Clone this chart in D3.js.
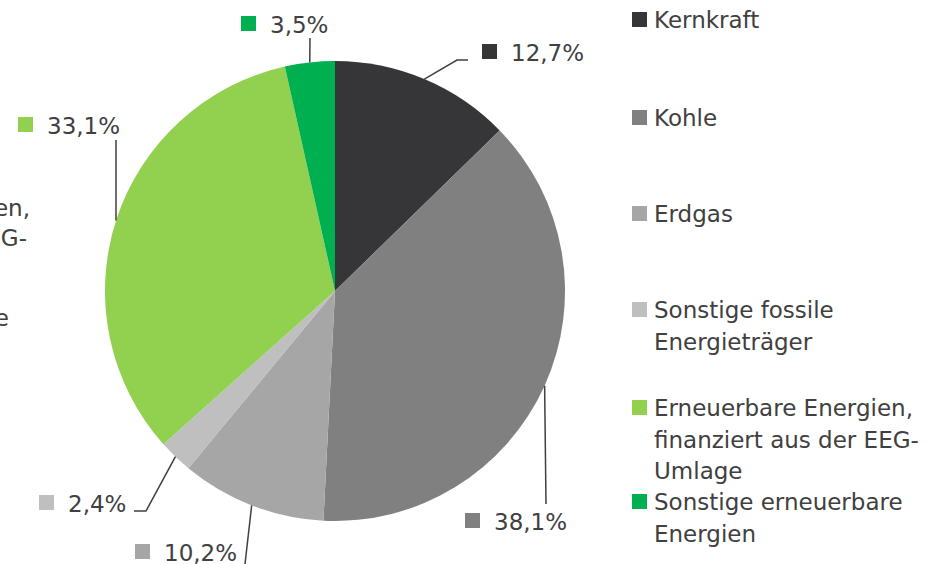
<!DOCTYPE html>
<html>
<head>
<meta charset="utf-8">
<script src="https://cdn.jsdelivr.net/npm/d3@7"></script>
<style>
  body { margin: 0; background: #fff; }
  svg { display: block; }
  text { font-family: "DejaVu Sans", Verdana, sans-serif; font-size: 23px; fill: #404040; }
</style>
</head>
<body>
<div id="chart-area"></div>
<script>
// data
var categories = ["Kernkraft", "Kohle", "Erdgas", "Sonstige fossile Energieträger",
  "Erneuerbare Energien, finanziert aus der EEG-Umlage", "Sonstige erneuerbare Energien"];
var legendLines = [["Kernkraft"], ["Kohle"], ["Erdgas"], ["Sonstige fossile", "Energieträger"],
  ["Erneuerbare Energien,", "finanziert aus der EEG-", "Umlage"], ["Sonstige erneuerbare", "Energien"]];
var shares = [12.7, 38.1, 10.2, 2.4, 33.1, 3.5];
var shareLabels = ["12,7%", "38,1%", "10,2%", "2,4%", "33,1%", "3,5%"];
var colors = ["#363638", "#808080", "#a6a6a6", "#bfbfbf", "#92d050", "#00b050"];

var width = 940, height = 564;
var cx = 335, cy = 291, radius = 230;

var svg = d3.select("#chart-area")
  .append("svg")
    .attr("width", width)
    .attr("height", height);

var color = d3.scaleOrdinal().domain(categories).range(colors);

var pie = d3.pie().sort(null).value(function(d) { return d.value; });
var arc = d3.arc().innerRadius(0).outerRadius(radius);

var data = categories.map(function(c, i) {
  return { name: c, value: shares[i], label: shareLabels[i] };
});
var arcs = pie(data);

var g = svg.append("g")
  .attr("transform", "translate(" + cx + ", " + cy + ")");

g.selectAll("path.slice")
  .data(arcs)
  .enter().append("path")
    .attr("class", "slice")
    .attr("d", arc)
    .attr("fill", function(d) { return color(d.data.name); });

// label layout (relative to the page): square x, text baseline, leader bends after the edge point
var labelPos = [
  { sx: 482, base: 61, leader: [[457, 60], [468, 60]] },
  { sx: 465, base: 530, leader: [[546, 504]] },
  { sx: 135, base: 561, leader: [[245, 564]] },
  { sx: 39, base: 512, leader: [[146, 511], [134, 511]] },
  { sx: 18, base: 134, leader: [[116, 140]] },
  { sx: 241, base: 33, leader: [[310, 38]] }
];

var line = d3.line();

arcs.forEach(function(d, i) {
  var a = (d.startAngle + d.endAngle) / 2;
  var edge = [cx + radius * Math.sin(a), cy - radius * Math.cos(a)];
  var p = labelPos[i];
  svg.append("path")
    .attr("d", line([edge].concat(p.leader)))
    .attr("fill", "none")
    .attr("stroke", "#404040")
    .attr("stroke-width", 1.5);
  svg.append("rect")
    .attr("x", p.sx)
    .attr("y", p.base - 17)
    .attr("width", 15)
    .attr("height", 15)
    .attr("fill", color(d.data.name));
  svg.append("text")
    .attr("x", p.sx + 29)
    .attr("y", p.base)
    .text(d.data.label);
});

// legend
var legendY = [28, 126, 222, 318, 416, 510];
var lineH = 31.5;
legendLines.forEach(function(lines, i) {
  var row = svg.append("g")
    .attr("transform", "translate(632, " + legendY[i] + ")");
  row.append("rect")
    .attr("y", -16)
    .attr("width", 15)
    .attr("height", 15)
    .attr("fill", color(categories[i]));
  var t = row.append("text").attr("x", 22);
  lines.forEach(function(s, j) {
    t.append("tspan")
      .attr("x", 22)
      .attr("y", j * lineH)
      .text(s);
  });
});

// category text cut off at the left border
var ghost = svg.append("g").attr("text-anchor", "end");
ghost.append("text").attr("x", 30).attr("y", 216).text("Erneuerbare Energien,");
ghost.append("text").attr("x", 27).attr("y", 246).text("finanziert aus der EEG-");
ghost.append("text").attr("x", 9).attr("y", 326).text("Umlage");
</script>
</body>
</html>
